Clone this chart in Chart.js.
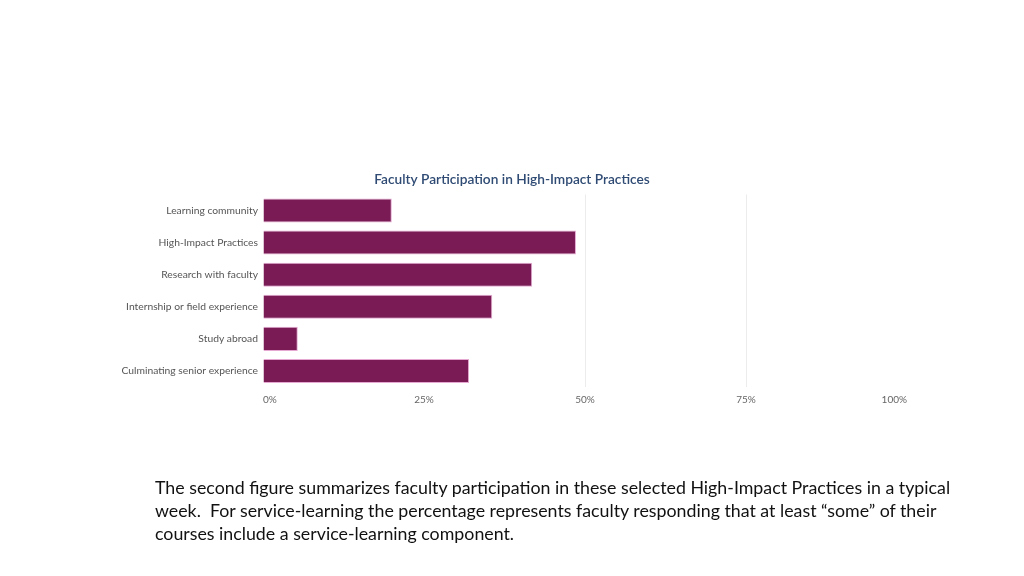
<!DOCTYPE html>
<html>
<head>
<meta charset="utf-8">
<script src="https://cdn.jsdelivr.net/npm/chart.js@4.4.1/dist/chart.umd.min.js"></script>
<style>
  html, body { margin: 0; padding: 0; background: #fff; }
  #wrap { position: relative; width: 1024px; height: 576px; overflow: hidden; }
  #chartBox { position: absolute; left: 0; top: 0; width: 1024px; height: 576px; }
  #note {
    position: absolute; left: 155px; top: 476px; width: 860px;
    font-family: "Lato", sans-serif; white-space: nowrap;
    font-size: 17.8px; line-height: 23px; color: #111;
  }
</style>
</head>
<body>
<div id="wrap">
  <div id="chartBox"><canvas id="hipChart"></canvas></div>
  <div id="note">The second figure summarizes faculty participation in these selected High-Impact Practices in a typical<br>week.&nbsp; For service-learning the percentage represents faculty responding that at least “some” of their<br>courses include a service-learning component.</div>
</div>
<script>
// chart data
const practices = [
    'Learning community',
    'High-Impact Practices',
    'Research with faculty',
    'Internship or field experience',
    'Study abroad',
    'Culminating senior experience'
];
const participation = [20.0, 48.6, 41.8, 35.6, 5.4, 32.0];
const xTicks = [0, 25, 50, 75, 100];

const chartTitle = 'Faculty Participation in High-Impact Practices';

document.addEventListener('DOMContentLoaded', function() {
    drawChart();
});

function drawChart() {
    const ctx = document.getElementById('hipChart').getContext('2d');
    new Chart(ctx, {
        type: 'bar',
        data: {
            labels: practices,
            datasets: [{
                data: participation,
                backgroundColor: '#7a1b56',
                borderColor: 'rgba(226, 160, 204, 0.9)',
                borderWidth: 1,
                categoryPercentage: 1.0,
                barPercentage: 0.75
            }]
        },
        options: {
            indexAxis: 'y',
            responsive: true,
            maintainAspectRatio: false,
            animation: false,
            layout: {
                // left/right padding keep the title centred on the page
                padding: { left: 117, right: 117, top: 171, bottom: 169 }
            },
            plugins: {
                legend: { display: false },
                tooltip: { enabled: false },
                title: {
                    display: true,
                    text: chartTitle,
                    color: '#2f4b74',
                    font: { family: 'Lato', size: 13.7, weight: '600' },
                    padding: { top: 0, bottom: 7 }
                }
            },
            scales: {
                x: {
                    min: 0,
                    max: 100,
                    afterBuildTicks: function(scale) {
                        scale.ticks = xTicks.map(v => ({ value: v }));
                    },
                    afterFit: function(scale) { scale.height = 20; },
                    border: { display: false },
                    grid: {
                        drawTicks: false,
                        color: function(c) {
                            const v = c.tick ? c.tick.value : null;
                            return (v === 50 || v === 75) ? '#ececec' : 'rgba(0,0,0,0)';
                        }
                    },
                    ticks: {
                        align: 'inner',
                        padding: 7,
                        color: '#666',
                        font: { family: 'Lato', size: 10 },
                        callback: function(v) { return v + '%'; }
                    }
                },
                y: {
                    afterFit: function(scale) { scale.width = 146; },
                    border: { display: false },
                    grid: { display: false, drawTicks: false },
                    ticks: {
                        padding: 5,
                        color: '#555',
                        font: { family: 'Lato', size: 10.3 }
                    }
                }
            }
        }
    });
}
</script>
</body>
</html>
